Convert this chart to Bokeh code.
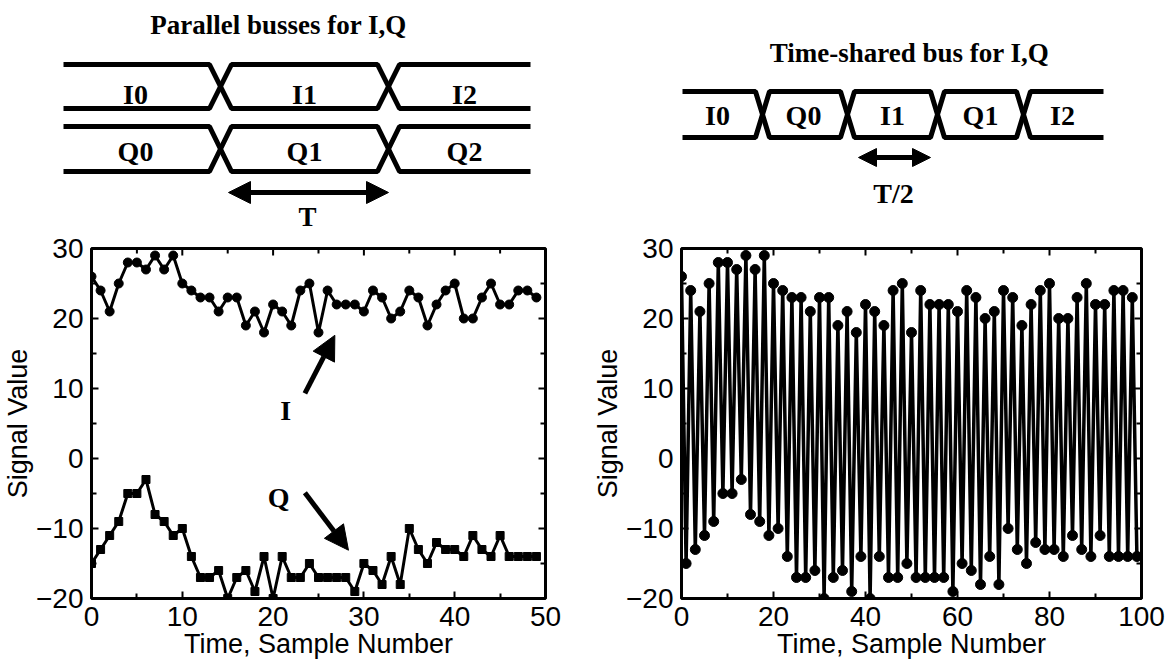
import math

from bokeh.plotting import figure
from bokeh.layouts import column, row
from bokeh.models import Range1d, FixedTicker, Arrow, NormalHead
from bokeh.core.properties import value
from bokeh.embed import file_html
from bokeh.resources import INLINE

# ---- signal samples -------------------------------------------------------
i_samples = [26, 24, 21, 25, 28, 28, 27, 29, 27, 29,
             25, 24, 23, 23, 21, 23, 23, 19, 21, 18,
             22, 21, 19, 24, 25, 18, 24, 22, 22, 22,
             21, 24, 23, 20, 21, 24, 23, 19, 22, 24,
             25, 20, 20, 23, 25, 22, 22, 24, 24, 23]
q_samples = [-15, -13, -11, -9, -5, -5, -3, -8, -9, -11,
             -10, -14, -17, -17, -16, -20, -17, -16, -19, -14,
             -20, -14, -17, -17, -15, -17, -17, -17, -17, -19,
             -15, -16, -18, -14, -18, -10, -13, -15, -12, -13,
             -13, -14, -11, -13, -14, -11, -14, -14, -14, -14]
sample_n = list(range(len(i_samples)))

# time-shared bus carries I0, Q0, I1, Q1, ...
shared_bus = [v for pair in zip(i_samples, q_samples) for v in pair]
shared_n = list(range(len(shared_bus)))

y_ticks = [-20, -10, 0, 10, 20, 30]
y_minor = [-15, -5, 5, 15, 25]
left_xticks = [0, 10, 20, 30, 40, 50]
left_xminor = [5, 15, 25, 35, 45]
right_xticks = [0, 20, 40, 60, 80, 100]
right_xminor = [10, 30, 50, 70, 90]

par_title = "Parallel busses for I,Q"
par_i_labels = ["I0", "I1", "I2"]
par_q_labels = ["Q0", "Q1", "Q2"]
shared_title = "Time-shared bus for I,Q"
shared_labels = ["I0", "Q0", "I1", "Q1", "I2"]

SERIF = value("Liberation Serif")
SANS = "Liberation Sans"
DIAG_H = 232
FRAME_TOP = 248

# ---- timing diagrams (pixel-like coordinate space) ------------------------
diag = figure(width=1165, height=DIAG_H, x_range=Range1d(0, 1165), y_range=Range1d(DIAG_H, 0),
              output_backend="svg", toolbar_location=None, min_border=0,
              x_axis_location=None, y_axis_location=None)
diag.grid.visible = False
diag.outline_line_color = None


def bus_paths(x0, x1, top, bot, crossings, h):
    ax, ay, bx, by = [x0], [top], [x0], [bot]
    ya, yb = top, bot
    for c in crossings:
        ax += [c - h, c + h]
        ay += [ya, yb]
        bx += [c - h, c + h]
        by += [yb, ya]
        ya, yb = yb, ya
    ax.append(x1); ay.append(ya)
    bx.append(x1); by.append(yb)
    return [ax, bx], [ay, by]


def bold_text(fig, xs, ys, texts, size="28px"):
    fig.text(x=xs, y=ys, text=texts, text_font=SERIF, text_font_style="bold",
             text_font_size=size, text_align="center", text_baseline="middle",
             color="black")


# parallel busses
par_cross = [220, 388]
for top, bot in [(64, 108), (126, 171)]:
    xs, ys = bus_paths(63, 530, top, bot, par_cross, 11)
    diag.multi_line(xs, ys, line_color="black", line_width=5)

bold_text(diag, [135, 304, 464], [94] * 3, par_i_labels)
bold_text(diag, [135, 304, 464], [151] * 3, par_q_labels)
bold_text(diag, [278], [24], [par_title], "27px")
diag.add_layout(Arrow(start=NormalHead(size=22, fill_color="black", line_color="black"),
                      end=NormalHead(size=22, fill_color="black", line_color="black"),
                      x_start=228, y_start=192, x_end=388, y_end=192,
                      line_width=5, line_color="black"))
bold_text(diag, [307], [216], ["T"], "27px")

# time-shared bus
xs, ys = bus_paths(682, 1103, 91, 137, [762, 847, 937, 1023], 7)
diag.multi_line(xs, ys, line_color="black", line_width=5)
bold_text(diag, [717, 803, 892, 980, 1062], [115] * 5, shared_labels)
bold_text(diag, [909], [52], [shared_title], "27px")
diag.add_layout(Arrow(start=NormalHead(size=18, fill_color="black", line_color="black"),
                      end=NormalHead(size=18, fill_color="black", line_color="black"),
                      x_start=858, y_start=157, x_end=930, y_end=157,
                      line_width=5, line_color="black"))
bold_text(diag, [893], [193], ["T/2"])


# ---- signal plots ---------------------------------------------------------
def style_axis(ax):
    ax.axis_line_color = None
    ax.major_tick_in = 7
    ax.major_tick_out = 0
    ax.minor_tick_in = 5
    ax.minor_tick_out = 0
    ax.major_tick_line_width = 2
    ax.minor_tick_line_width = 2
    ax.major_tick_line_color = "black"
    ax.minor_tick_line_color = "black"
    ax.major_label_text_font = SANS
    ax.major_label_text_font_size = "28px"
    ax.major_label_text_color = "black"
    ax.major_label_standoff = 8
    ax.axis_label_text_font = SANS
    ax.axis_label_text_font_size = "27px"
    ax.axis_label_text_font_style = "normal"
    ax.axis_label_text_color = "black"
    ax.axis_label_standoff = 0


def make_plot(width, xmax, xticks, xminor, b_left, b_right):
    p = figure(width=width, height=670 - DIAG_H, x_range=Range1d(0, xmax), y_range=Range1d(-20, 30),
               output_backend="svg", toolbar_location=None,
               min_border_left=b_left, min_border_right=b_right,
               min_border_top=FRAME_TOP - DIAG_H, min_border_bottom=72)
    p.grid.visible = False
    p.outline_line_color = "black"
    p.outline_line_width = 3
    p.xaxis.ticker = FixedTicker(ticks=xticks, minor_ticks=xminor)
    p.yaxis.ticker = FixedTicker(ticks=y_ticks, minor_ticks=y_minor)
    p.xaxis.axis_label = "Time, Sample Number"
    p.yaxis.axis_label = "Signal Value"
    style_axis(p.xaxis[0])
    style_axis(p.yaxis[0])
    # inward tick marks along the top and right edges of the frame
    for ticks, ln in [(xticks, 7), (xminor, 5)]:
        p.ray(x=ticks, y=[30] * len(ticks), length=ln, length_units="screen",
              angle=-math.pi / 2, line_color="black", line_width=2)
    for ticks, ln in [(y_ticks, 7), (y_minor, 5)]:
        p.ray(x=[xmax] * len(ticks), y=ticks, length=ln, length_units="screen",
              angle=math.pi, line_color="black", line_width=2)
    return p


left = make_plot(590, 50, left_xticks, left_xminor, 86, 45)
left.line(sample_n, i_samples, line_color="black", line_width=3)
left.scatter(sample_n, i_samples, marker="circle", size=9, color="black")
left.line(sample_n, q_samples, line_color="black", line_width=3)
left.scatter(sample_n, q_samples, marker="square", size=8, color="black")
bold_text(left, [21.4, 20.6], [6.9, -5.5], ["I", "Q"])
left.add_layout(Arrow(end=NormalHead(size=24, fill_color="black", line_color="black"),
                      x_start=23.5, y_start=9.3, x_end=26.8, y_end=17.6,
                      line_width=5, line_color="black"))
left.add_layout(Arrow(end=NormalHead(size=24, fill_color="black", line_color="black"),
                      x_start=23.5, y_start=-4.9, x_end=28.3, y_end=-13.1,
                      line_width=5, line_color="black"))

right = make_plot(575, 100, right_xticks, right_xminor, 87, 24)
right.line(shared_n, shared_bus, line_color="black", line_width=3.5)
right.scatter(shared_n, shared_bus, marker="circle", size=10, color="black")

layout = column(diag, row(left, right))
open("out.html", "w").write(file_html(layout, INLINE))
